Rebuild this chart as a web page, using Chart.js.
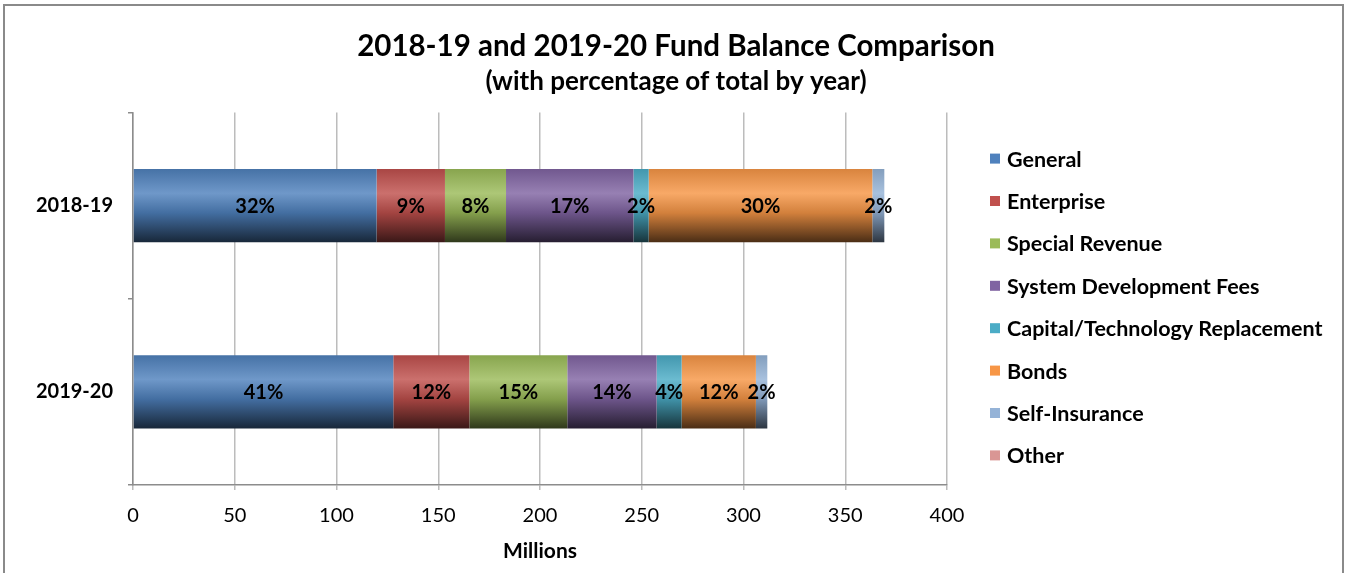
<!DOCTYPE html>
<html>
<head>
<meta charset="utf-8">
<title>Fund Balance Comparison</title>
<script src="https://cdn.jsdelivr.net/npm/chart.js@4/dist/chart.umd.min.js"></script>
<style>
  html, body { margin: 0; padding: 0; background: #fff; overflow: hidden; }
  .frame { position: absolute; left: 3px; top: 4px; width: 1337px; height: 640px; border: 2px solid #8a8a8a; }
  #fund-chart { position: absolute; left: 0; top: 0; }
</style>
</head>
<body>
<div class="frame"></div>
<canvas id="fund-chart" width="1347" height="573"></canvas>
<script>
const years = ["2018-19", "2019-20"];
const fundNames = [
  "General",
  "Enterprise",
  "Special Revenue",
  "System Development Fees",
  "Capital/Technology Replacement",
  "Bonds",
  "Self-Insurance",
  "Other",
];
const fundColors = ["#4f81bd", "#c0504d", "#9bbb59", "#8064a2", "#4bacc6", "#f79646", "#95b3d7", "#d99694"];

// millions of dollars, per year
const general = [119.7, 127.9];
const enterprise = [33.6, 37.4];
const specialRevenue = [30.0, 48.1];
const systemDevelopment = [62.6, 43.9];
const capitalTechnology = [7.5, 12.3];
const bonds = [109.9, 36.5];
const selfInsurance = [5.9, 5.6];
const other = [0, 0];

const xTicks = [0, 50, 100, 150, 200, 250, 300, 350, 400];

const fundValues = [general, enterprise, specialRevenue, systemDevelopment, capitalTechnology, bonds, selfInsurance, other];
const yearTotals = years.map((_, i) => fundValues.reduce((sum, series) => sum + series[i], 0));

const BAR_PERCENT = 0.393;
const FONT = "Lato, 'Open Sans', sans-serif";

function hexToRgb(hex) {
  const n = parseInt(hex.slice(1), 16);
  return [(n >> 16) & 255, (n >> 8) & 255, n & 255];
}

function shade(hex, f) {
  const [r, g, b] = hexToRgb(hex);
  return `rgb(${Math.round(r * f)}, ${Math.round(g * f)}, ${Math.round(b * f)})`;
}

function tint(hex, t) {
  const [r, g, b] = hexToRgb(hex);
  const mix = (c) => Math.round(c + (255 - c) * t);
  return `rgb(${mix(r)}, ${mix(g)}, ${mix(b)})`;
}

// glossy vertical fill for a bar, spanning its own thickness
function barFill(color) {
  return (ctx) => {
    const chart = ctx.chart;
    if (!chart.chartArea || ctx.type !== "data") return color;
    const yScale = chart.scales.y;
    const center = yScale.getPixelForValue(ctx.dataIndex);
    const half = (yScale.height / years.length) * BAR_PERCENT / 2;
    const grad = chart.ctx.createLinearGradient(0, center - half, 0, center + half);
    grad.addColorStop(0, shade(color, 0.88));
    grad.addColorStop(0.33, tint(color, 0.18));
    grad.addColorStop(0.6, shade(color, 0.85));
    grad.addColorStop(1, shade(color, 0.3));
    return grad;
  };
}

const percentLabels = {
  id: "percentLabels",
  afterDatasetsDraw(chart) {
    const ctx = chart.ctx;
    ctx.save();
    ctx.font = `bold 20px ${FONT}`;
    ctx.fillStyle = "#000";
    ctx.textAlign = "center";
    ctx.textBaseline = "middle";
    chart.data.datasets.forEach((dataset, i) => {
      chart.getDatasetMeta(i).data.forEach((bar, j) => {
        const value = dataset.data[j];
        if (!value) return;
        const pct = Math.round((value / yearTotals[j]) * 100);
        const { x, y } = bar.getCenterPoint();
        ctx.fillText(`${pct}%`, x, y + 1);
      });
    });
    ctx.restore();
  },
};

const sideLegend = {
  id: "sideLegend",
  afterDraw(chart) {
    const ctx = chart.ctx;
    const area = chart.chartArea;
    const left = area.right + 43;
    ctx.save();
    ctx.font = `bold 21.5px ${FONT}`;
    ctx.textBaseline = "middle";
    fundNames.forEach((name, i) => {
      const y = area.top + 46 + i * 42.4;
      ctx.fillStyle = fundColors[i];
      ctx.fillRect(left, y - 5, 10, 10);
      ctx.fillStyle = "#000";
      ctx.fillText(name, left + 17, y + 1);
    });
    ctx.restore();
  },
};

new Chart(document.getElementById("fund-chart"), {
  type: "bar",
  data: {
    labels: years,
    datasets: fundNames.map((name, i) => ({
      label: name,
      data: fundValues[i],
      backgroundColor: barFill(fundColors[i]),
      borderWidth: 0,
      barPercentage: BAR_PERCENT,
      categoryPercentage: 1,
    })),
  },
  options: {
    indexAxis: "y",
    responsive: false,
    animation: false,
    layout: { padding: { left: 5, right: 0, top: 0, bottom: 0 } },
    plugins: {
      legend: { display: false },
      tooltip: { enabled: false },
      title: {
        display: true,
        text: "2018-19 and 2019-20 Fund Balance Comparison",
        color: "#000",
        font: { family: FONT, size: 29.5, weight: "bold", lineHeight: 1.2 },
        padding: { top: 29, bottom: 1 },
      },
      subtitle: {
        display: true,
        text: "(with percentage of total by year)",
        color: "#000",
        font: { family: FONT, size: 26, weight: "bold", lineHeight: 1.2 },
        padding: { top: 1, bottom: 15 },
      },
    },
    scales: {
      x: {
        stacked: true,
        min: 0,
        max: 400,
        afterBuildTicks: (scale) => {
          scale.ticks = xTicks.map((value) => ({ value }));
        },
        afterFit: (scale) => {
          scale.height = 88;
        },
        ticks: {
          color: "#000",
          padding: 14,
          font: { family: FONT, size: 20, lineHeight: 1.2 },
        },
        grid: { color: "#bcbcbc", lineWidth: 1.5, tickLength: 5 },
        border: { color: "#8c8c8c", width: 1.5 },
        title: {
          display: true,
          text: "Millions",
          color: "#000",
          font: { family: FONT, size: 21, weight: "bold", lineHeight: 1.2 },
          padding: { top: 0, bottom: 9 },
        },
      },
      y: {
        stacked: true,
        afterFit: (scale) => {
          scale.width = 128;
        },
        ticks: {
          color: "#000",
          padding: 15,
          font: { family: FONT, size: 20, weight: "bold" },
        },
        grid: { drawOnChartArea: false, color: "#8c8c8c", lineWidth: 1.5, tickLength: 5, offset: true },
        border: { color: "#8c8c8c", width: 1.5 },
      },
      // empty right-hand axis that keeps room for the legend list
      legendRoom: {
        type: "category",
        labels: years,
        position: "right",
        afterFit: (scale) => {
          scale.width = 400;
        },
        ticks: { display: false },
        grid: { display: false },
        border: { display: false },
      },
    },
  },
  plugins: [percentLabels, sideLegend],
});
</script>
</body>
</html>
